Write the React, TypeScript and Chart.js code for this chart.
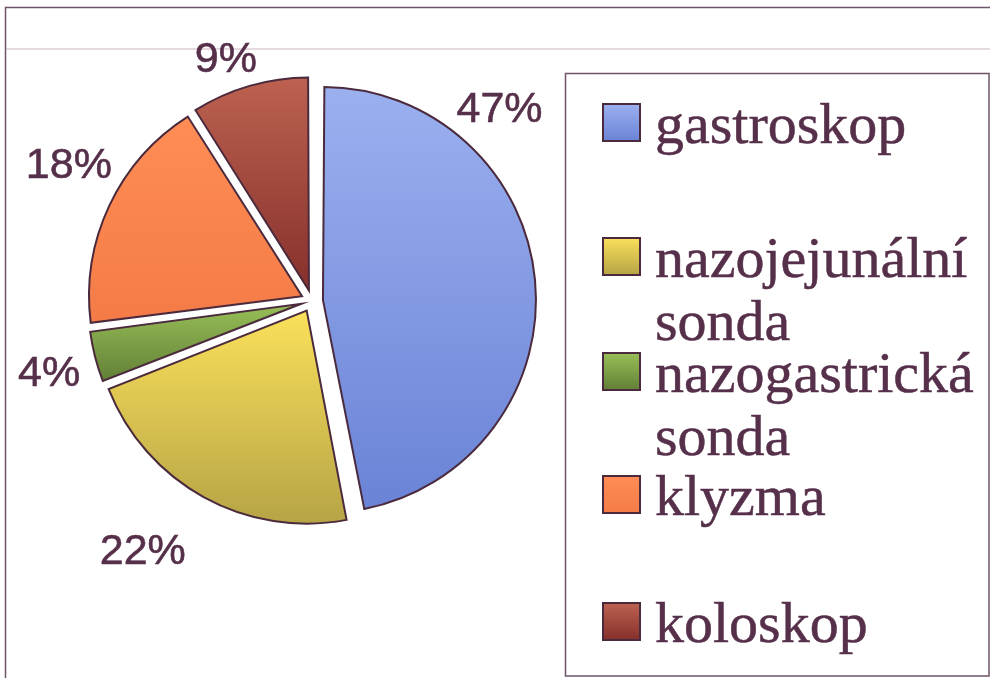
import React, { useEffect, useRef } from 'react';
import { Chart, registerables } from 'chart.js';

Chart.register(...registerables);

// ---- data ----
const CATEGORIES: (string | string[])[] = [
  'gastroskop',
  ['nazojejunální', 'sonda'],
  ['nazogastrická', 'sonda'],
  'klyzma',
  'koloskop',
];
const VALUES = [47, 22, 4, 18, 9];
const TOP_COLORS = ['#9bb0ef', '#fae05a', '#98bf58', '#ff8d55', '#bd6250'];
const BOTTOM_COLORS = ['#6a83d6', '#b6a446', '#627f36', '#f47b47', '#86302c'];

// ---- style ----
const RADIUS = 213;
const EXPLODE = 44; // Chart.js translates a slice by offset / 4
const INK = '#56304a';
const FRAME = '#6e5468';
const BORDER = '#4a2a3c';

const total = VALUES.reduce((a, b) => a + b, 0);

function sliceGradient(c: any) {
  const chart = c.chart;
  const i = c.dataIndex ?? 0;
  const area = chart.chartArea;
  if (!area) return TOP_COLORS[i];
  const cx = (area.left + area.right) / 2;
  const cy = (area.top + area.bottom) / 2;
  let acc = 0;
  for (let j = 0; j < i; j++) acc += VALUES[j];
  const a0 = -Math.PI / 2 + (acc / total) * 2 * Math.PI;
  const a1 = a0 + (VALUES[i] / total) * 2 * Math.PI;
  const ys = [cy, cy + RADIUS * Math.sin(a0), cy + RADIUS * Math.sin(a1)];
  [-Math.PI / 2, Math.PI / 2, 1.5 * Math.PI].forEach((k) => {
    if (k >= a0 && k <= a1) ys.push(cy + RADIUS * Math.sin(k));
  });
  const g = chart.ctx.createLinearGradient(0, Math.min(...ys), 0, Math.max(...ys));
  g.addColorStop(0, TOP_COLORS[i]);
  g.addColorStop(1, BOTTOM_COLORS[i]);
  return g;
}

const radiusFix = {
  id: 'radiusFix',
  afterDatasetsUpdate(chart: any) {
    const meta = chart.getDatasetMeta(0);
    meta.data.forEach((el: any) => {
      const off = ((el.options && el.options.offset) || 0) / 4;
      const fix = 1 - Math.sin(Math.min(Math.PI, el.circumference || 0));
      el.outerRadius = RADIUS - off * fix;
    });
  },
};

const frame = {
  id: 'frame',
  beforeDraw(chart: any) {
    const ctx = chart.ctx;
    ctx.save();
    ctx.fillStyle = '#ffffff';
    ctx.fillRect(0, 0, chart.width, chart.height);
    ctx.strokeStyle = FRAME;
    ctx.lineWidth = 1.5;
    ctx.beginPath();
    ctx.moveTo(5.5, chart.height);
    ctx.lineTo(5.5, 7.5);
    ctx.lineTo(chart.width, 7.5);
    ctx.stroke();
    // faint fold line of the scan
    ctx.strokeStyle = 'rgba(150,110,130,0.35)';
    ctx.beginPath();
    ctx.moveTo(5, 49);
    ctx.lineTo(chart.width, 49);
    ctx.stroke();
    ctx.restore();
  },
};

const pctLabels = {
  id: 'pctLabels',
  afterDatasetsDraw(chart: any, _args: any, opts: any) {
    const ctx = chart.ctx;
    const meta = chart.getDatasetMeta(0);
    const vals = chart.data.datasets[0].data as number[];
    const sum = vals.reduce((a, b) => a + b, 0);
    ctx.save();
    ctx.fillStyle = INK;
    ctx.strokeStyle = INK;
    ctx.lineWidth = 0.6;
    ctx.font = '43px "Liberation Sans", Arial, sans-serif';
    ctx.textAlign = 'center';
    ctx.textBaseline = 'alphabetic';
    meta.data.forEach((el: any, i: number) => {
      const p = opts.place[i];
      const a = el.startAngle + p.f * (el.endAngle - el.startAngle);
      const x = el.x + Math.cos(a) * p.d;
      const y = el.y + Math.sin(a) * p.d;
      const t = Math.round((vals[i] / sum) * 100) + '%';
      ctx.fillText(t, x, y + 15.5);
      ctx.strokeText(t, x, y + 15.5);
    });
    ctx.restore();
  },
};

const boxLegend = {
  id: 'boxLegend',
  afterDraw(chart: any, _args: any, opts: any) {
    const ctx = chart.ctx;
    const labels = chart.data.labels as (string | string[])[];
    ctx.save();
    ctx.strokeStyle = FRAME;
    ctx.lineWidth = 1.5;
    ctx.strokeRect(opts.left, opts.top, opts.right - opts.left, opts.bottom - opts.top);
    ctx.font = '58px "Liberation Serif", "Times New Roman", serif';
    ctx.textBaseline = 'alphabetic';
    ctx.textAlign = 'left';
    labels.forEach((lab, i) => {
      const top = opts.rowTops[i];
      const s = opts.swatch;
      const g = ctx.createLinearGradient(0, top, 0, top + s);
      g.addColorStop(0, TOP_COLORS[i]);
      g.addColorStop(1, BOTTOM_COLORS[i]);
      ctx.fillStyle = g;
      ctx.fillRect(opts.swatchX, top, s, s);
      ctx.strokeStyle = BORDER;
      ctx.lineWidth = 2;
      ctx.strokeRect(opts.swatchX, top, s, s);
      ctx.fillStyle = INK;
      ctx.strokeStyle = INK;
      ctx.lineWidth = 0.5;
      const lines = Array.isArray(lab) ? lab : [lab];
      lines.forEach((t, k) => {
        const y = top + s + 2 + k * opts.lineGap;
        ctx.fillText(t, opts.textX, y);
        ctx.strokeText(t, opts.textX, y);
      });
    });
    ctx.restore();
  },
};

export default function App() {
  const ref = useRef<HTMLCanvasElement>(null);
  useEffect(() => {
    if (!ref.current) return;
    const chart = new Chart(ref.current, {
      type: 'pie',
      data: {
        labels: CATEGORIES as any,
        datasets: [
          {
            data: VALUES,
            backgroundColor: sliceGradient as any,
            borderColor: BORDER,
            borderWidth: 2,
            borderJoinStyle: 'miter',
            offset: EXPLODE,
          } as any,
        ],
      },
      options: {
        animation: false,
        responsive: false,
        radius: RADIUS,
        layout: { padding: { left: 62, right: 428, top: 51, bottom: 127 } },
        plugins: {
          legend: { display: false },
          tooltip: { enabled: false },
          pctLabels: {
            place: [
              { f: 0.26, d: 270 },
              { f: 0.57, d: 300 },
              { f: 0.47, d: 272 },
              { f: 0.57, d: 280 },
              { f: 0.4, d: 259 },
            ],
          },
          boxLegend: {
            left: 565.5,
            top: 73.5,
            right: 989,
            bottom: 676,
            swatchX: 603,
            swatch: 37,
            textX: 655,
            lineGap: 63,
            rowTops: [104, 238, 353, 476, 603],
          },
        } as any,
      },
      plugins: [frame, radiusFix, pctLabels, boxLegend],
    });
    return () => chart.destroy();
  }, []);
  return (
    <div style={{ position: 'fixed', left: 0, top: 0, width: 990, height: 678, background: '#fff' }}>
      <canvas ref={ref} width={990} height={678} style={{ width: 990, height: 678, display: 'block' }} />
    </div>
  );
}
